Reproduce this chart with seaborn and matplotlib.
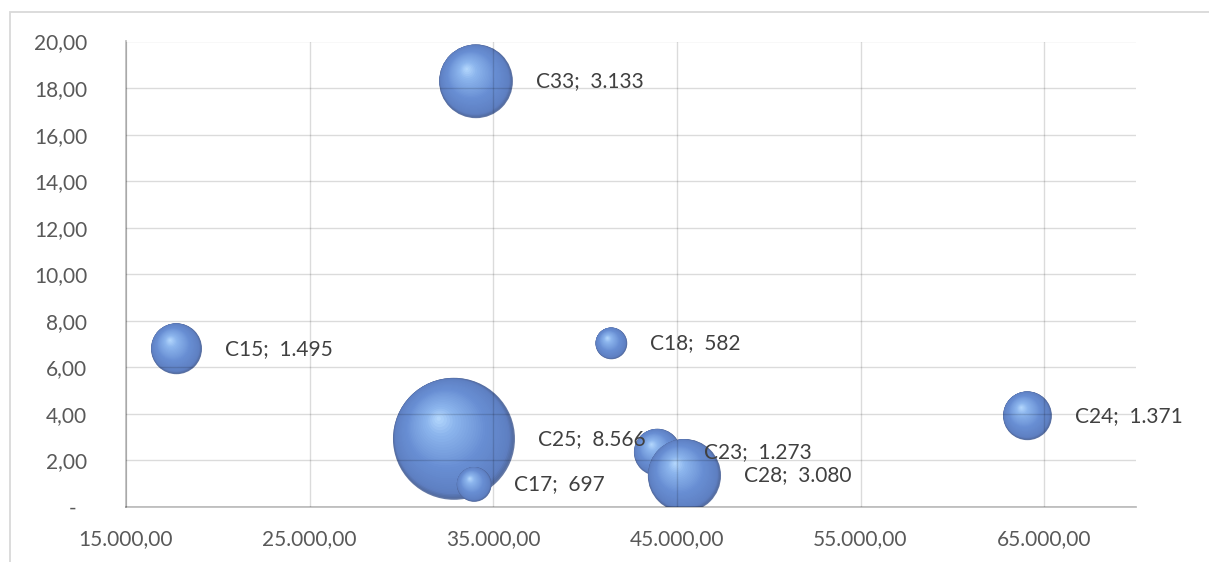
import numpy as np
import pandas as pd
import matplotlib
matplotlib.use("Agg")
import matplotlib.pyplot as plt
import seaborn as sns
from matplotlib.path import Path
from matplotlib.patches import Rectangle
from matplotlib.ticker import FixedLocator, FuncFormatter

# dados das bolhas
names = ["C15", "C18", "C24", "C25", "C17", "C23", "C28", "C33"]
salario = [17750, 41430, 64090, 32860, 33960, 43940, 45410, 34060]
indice = [6.80, 7.03, 3.92, 2.93, 0.97, 2.35, 1.35, 18.29]
qtd = [1495, 582, 1371, 8566, 697, 1273, 3080, 3133]

x_ticks = [15000, 25000, 35000, 45000, 55000, 65000]
y_ticks = [0, 2, 4, 6, 8, 10, 12, 14, 16, 18, 20]

df = pd.DataFrame({"nome": names, "x": salario, "y": indice, "v": qtd})

sns.set_style("white")
plt.rcParams["font.family"] = ["Lato", "DejaVu Sans"]

fig = plt.figure(figsize=(12.09, 5.62), dpi=100)
ax = fig.add_axes([126 / 1209, 1 - 507 / 562, (1136 - 126) / 1209, (507 - 41.5) / 562])

# moldura do gráfico
fig.patches.append(Rectangle((10 / 1209, -0.1), 1.2, 1.1 - 12 / 562, transform=fig.transFigure,
                             fill=False, edgecolor="#d9d9d9", linewidth=1.3))

k = (122 * 0.72) ** 2 / 8566  # área do marcador proporcional ao valor


def camada(f, cx, cy):
    # circulo deslocado dentro do marcador (ancora em (1,1) mantém a escala)
    anchor = Path([(1, 1), (-1, -1)], [Path.MOVETO, Path.MOVETO])
    return Path.make_compound_path(anchor, Path.circle((cx, cy), f))


# gradiente da esfera: borda escura -> azul médio -> brilho
stops_t = [0.0, 0.12, 0.5, 0.85, 1.0]
stops_c = np.array([[0.31, 0.40, 0.60],
                    [0.37, 0.50, 0.76],
                    [0.41, 0.56, 0.83],
                    [0.55, 0.71, 0.93],
                    [0.70, 0.84, 0.99]])
hx, hy = -0.25, 0.33
h_len = np.hypot(hx, hy)
n_layers = 36

for _, row in df.iterrows():
    s = row["v"] * k
    for i, t in enumerate(np.linspace(0, 1, n_layers)):
        f = max(1 - h_len * t - 0.55 * t ** 2, 0.03)
        col = [np.interp(t, stops_t, stops_c[:, j]) for j in range(3)]
        sns.scatterplot(x=[row["x"]], y=[row["y"]], s=s, marker=camada(f, hx * t, hy * t),
                        color=col, alpha=0.88 if i == 0 else 0.92, linewidth=0,
                        edgecolor="none", ax=ax, zorder=2)
    r_pt = np.sqrt(s) / 2
    ax.annotate(f"{row['nome']};  {row['v']:,}".replace(",", "."), (row["x"], row["y"]),
                xytext=(r_pt + 16.5, 0), textcoords="offset points", ha="left", va="center",
                fontsize=15, color="#404040", zorder=5)

ax.set_xlim(15000, 70000)
ax.set_ylim(0, 20)
ax.xaxis.set_major_locator(FixedLocator(x_ticks))
ax.yaxis.set_major_locator(FixedLocator(y_ticks))


def fmt_br(v, pos=None):
    return f"{v:,.2f}".replace(",", "X").replace(".", ",").replace("X", ".")


ax.xaxis.set_major_formatter(FuncFormatter(fmt_br))
ax.yaxis.set_major_formatter(FuncFormatter(lambda v, p: "-  " if v == 0 else fmt_br(v)))

# grade semitransparente por cima das bolhas (fica mais escura sobre o azul)
ax.grid(True, color="black", alpha=0.14, linewidth=1.0, zorder=3)
ax.set_axisbelow(False)
for sp in ["top", "right"]:
    ax.spines[sp].set_visible(False)
for sp in ["left", "bottom"]:
    ax.spines[sp].set_color((0, 0, 0, 0.25))
    ax.spines[sp].set_linewidth(1.3)
    ax.spines[sp].set_zorder(3)

ax.tick_params(axis="both", length=0, labelsize=15, labelcolor="#595959")
ax.tick_params(axis="y", pad=28)
ax.tick_params(axis="x", pad=16)
ax.set_xlabel("")
ax.set_ylabel("")

fig.savefig("out.png", dpi=100)
